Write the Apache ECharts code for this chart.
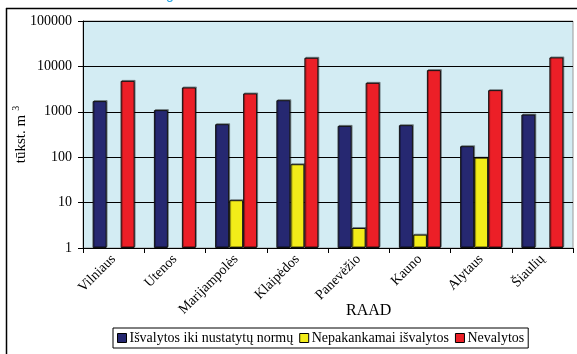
<!DOCTYPE html>
<html><head><meta charset="utf-8">
<script src="https://cdn.jsdelivr.net/npm/echarts@6/dist/echarts.min.js"></script>
<style>html,body{margin:0;padding:0;background:#fff}#c{width:577px;height:354px}</style>
</head><body><div id="c"></div>
<script>
var categories = ['Vilniaus','Utenos','Marijampolės','Klaipėdos','Panevėžio','Kauno','Alytaus','Šiaulių'];
var seriesNames = ['Išvalytos iki nustatytų normų','Nepakankamai išvalytos','Nevalytos'];
var isvalytos = [1720, 1090, 534, 1800, 490, 508, 175, 870];
var nepakankamai = [null, null, 11.3, 70, 2.76, 1.97, 98, null];
var nevalytos = [4800, 3440, 2540, 15500, 4350, 8280, 3000, 15800];
var yTicks = [1, 10, 100, 1000, 10000, 100000];
var colors = ['#262871', '#f2ec19', '#ec1f27'];

var serif = 'Liberation Serif';
var chart = echarts.init(document.getElementById('c'));
function mk(name, data, color) {
  return {
    name: name, type: 'bar', data: data, barWidth: 14, barGap: '0%',
    itemStyle: { color: color, borderColor: '#111', borderWidth: 1,
      shadowColor: 'rgba(0,0,0,0.35)', shadowOffsetX: 1, shadowOffsetY: -1, shadowBlur: 0 }
  };
}
chart.setOption({
  animation: false,
  textStyle: { fontFamily: serif },
  grid: { left: 83, right: 4, top: 21, bottom: 106, show: true, containLabel: false, outerBoundsMode: 'none',
    backgroundColor: '#d3ecf3', borderColor: '#9a9a9a', borderWidth: 1 },
  legend: {
    data: seriesNames, left: 113, top: 328, orient: 'horizontal',
    itemWidth: 9, itemHeight: 9, itemGap: 6, padding: [3, 4, 3, 4],
    borderColor: '#000', borderWidth: 1, icon: 'rect',
    textStyle: { fontFamily: serif, fontSize: 14, color: '#000', padding: [0, 0, 0, -2] },
    itemStyle: { borderColor: '#000', borderWidth: 1 }
  },
  xAxis: {
    type: 'category', data: categories,
    axisLine: { lineStyle: { color: '#000' } },
    axisTick: { show: true, length: 5, lineStyle: { color: '#000' } },
    axisLabel: { rotate: 45, fontFamily: serif, fontSize: 14, color: '#000', margin: 9, interval: 0 }
  },
  yAxis: {
    type: 'log', logBase: 10, min: yTicks[0], max: yTicks[yTicks.length - 1],
    name: '{a|tūkst. m}{b|3}', nameLocation: 'middle', nameGap: 52, nameRotate: 90, nameMoveOverlap: false,
    nameTextStyle: { rich: {
      a: { fontFamily: serif, fontSize: 15, color: '#000' },
      b: { fontFamily: serif, fontSize: 10, color: '#000', padding: [0, 0, 10, 4] } } },
    axisLine: { show: true, lineStyle: { color: '#000' } },
    axisTick: { show: true, length: 5, lineStyle: { color: '#000' } },
    splitLine: { show: true, lineStyle: { color: '#000', width: 1 } },
    axisLabel: { fontFamily: serif, fontSize: 14, color: '#000', margin: 11,
      formatter: function (v) { return String(v); } }
  },
  graphic: [
    { type: 'line', shape: { x1: 6.5, y1: 8, x2: 6.5, y2: 354 }, style: { stroke: '#000', lineWidth: 1.5 } },
    { type: 'line', shape: { x1: 6, y1: 8.5, x2: 577, y2: 8.5 }, style: { stroke: '#000', lineWidth: 1.5 } },
    { type: 'text', left: 346, top: 303, style: { text: 'RAAD', font: '16px "Liberation Serif"', fill: '#000' } },
    { type: 'text', left: 166, top: -12, style: { text: 'g', font: '14px "Liberation Sans"', fill: '#2aa6e2' } }
  ],
  series: [mk(seriesNames[0], isvalytos, colors[0]), mk(seriesNames[1], nepakankamai, colors[1]), mk(seriesNames[2], nevalytos, colors[2])]
});
</script></body></html>
